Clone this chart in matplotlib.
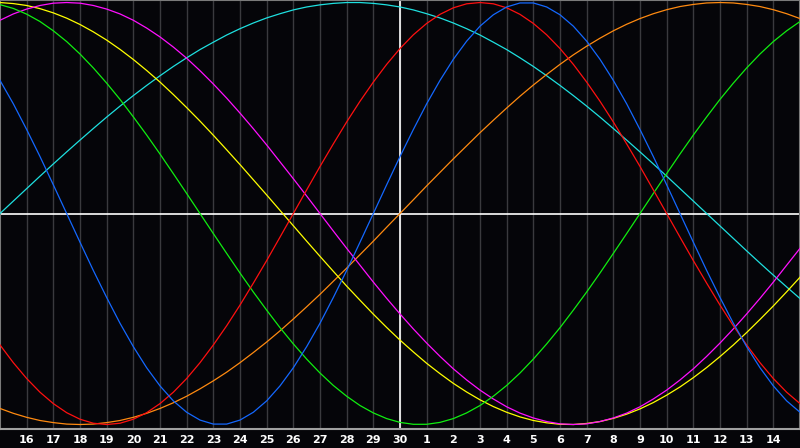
import matplotlib

matplotlib.use("Agg")
import matplotlib.pyplot as plt
import numpy as np

# cycle values (thousandths), every half day across the 30-day window
physical = [631, 520, 398, 270, 136, 0, -136, -270, -398, -520, -631, -731, -817, -888, -942, -979, -998, -998, -979, -942, -888, -817, -731, -631, -520, -398, -270, -136, 0, 136, 270, 398, 520, 631, 731, 817, 888, 942, 979, 998, 998, 979, 942, 888, 817, 731, 631, 520, 398, 270, 136, 0, -136, -270, -398, -520, -631, -731, -817, -888, -942]
emotional = [-623, -707, -782, -847, -901, -944, -975, -994, -1000, -994, -975, -944, -901, -847, -782, -707, -623, -532, -434, -330, -223, -112, 0, 112, 223, 330, 434, 532, 623, 707, 782, 847, 901, 944, 975, 994, 1000, 994, 975, 944, 901, 847, 782, 707, 623, 532, 434, 330, 223, 112, 0, -112, -223, -330, -434, -532, -623, -707, -782, -847, -901]
intellectual = [990, 972, 945, 910, 866, 815, 756, 690, 618, 541, 458, 372, 282, 189, 95, 0, -95, -189, -282, -372, -458, -541, -618, -690, -756, -815, -866, -910, -945, -972, -990, -999, -999, -990, -972, -945, -910, -866, -815, -756, -690, -618, -541, -458, -372, -282, -189, -95, 0, 95, 189, 282, 372, 458, 541, 618, 690, 756, 815, 866, 910]
intuitive = [916, 946, 969, 986, 997, 1000, 997, 986, 969, 946, 916, 879, 837, 789, 736, 677, 614, 547, 476, 402, 325, 245, 165, 83, 0, -83, -165, -245, -325, -402, -476, -547, -614, -677, -736, -789, -837, -879, -916, -946, -969, -986, -997, -1000, -997, -986, -969, -946, -916, -879, -837, -789, -736, -677, -614, -547, -476, -402, -325, -245, -165]
aesthetic = [1000, 995, 986, 971, 951, 926, 896, 861, 822, 778, 730, 678, 623, 564, 502, 438, 371, 302, 232, 160, 88, 15, -58, -131, -203, -274, -344, -411, -477, -540, -600, -656, -710, -759, -805, -846, -883, -915, -942, -964, -981, -992, -999, -1000, -995, -986, -971, -951, -926, -896, -861, -822, -778, -730, -678, -623, -564, -502, -438, -371, -302]
awareness = [-924, -947, -966, -981, -991, -998, -1000, -998, -991, -981, -966, -947, -924, -897, -866, -831, -793, -752, -707, -659, -609, -556, -500, -442, -383, -321, -259, -195, -131, -65, 0, 65, 131, 195, 259, 321, 383, 442, 500, 556, 609, 659, 707, 752, 793, 831, 866, 897, 924, 947, 966, 981, 991, 998, 1000, 998, 991, 981, 966, 947, 924]
spiritual = [0, 59, 118, 177, 235, 292, 348, 403, 457, 509, 559, 607, 653, 697, 738, 777, 812, 846, 876, 903, 927, 947, 965, 979, 989, 996, 1000, 1000, 996, 989, 979, 965, 947, 927, 903, 876, 846, 812, 777, 738, 697, 653, 607, 559, 509, 457, 403, 348, 292, 235, 177, 118, 59, 0, -59, -118, -177, -235, -292, -348, -403]

day_labels = [16, 17, 18, 19, 20, 21, 22, 23, 24, 25, 26, 27, 28, 29, 30,
              1, 2, 3, 4, 5, 6, 7, 8, 9, 10, 11, 12, 13, 14]
today = 30

series = [
    (spiritual, "#1ee0e0"),
    (awareness, "#ff8a10"),
    (aesthetic, "#ffff00"),
    (intuitive, "#ff10ff"),
    (intellectual, "#10ee10"),
    (emotional, "#ff1010"),
    (physical, "#1468ff"),
]

bg = "#050509"
fig = plt.figure(figsize=(8, 4.48), dpi=100, facecolor=bg)
ax = fig.add_axes([0, 0.0435, 1, 0.9565], facecolor=bg)

n_days = len(day_labels) + 1
x = np.linspace(0, n_days, len(physical))
ticks = np.arange(1, n_days)

for t in ticks:
    ax.axvline(t, color="#3a3a3e", lw=1.0, zorder=1)
ax.axvline(day_labels.index(today) + 1, color="white", lw=1.2, zorder=2)
ax.axhline(0, color="white", lw=1.2, zorder=2)

for vals, c in series:
    ax.plot(x, np.array(vals) / 1000.0, color=c, lw=0.9, zorder=3)

ax.set_xlim(0, n_days)
ax.set_ylim(-1.019, 1.012)
ax.set_xticks(ticks)
ax.set_xticklabels([str(d) for d in day_labels])
ax.set_yticks([])
ax.tick_params(axis="x", length=0, pad=5, colors="white", labelsize=8)
for lab in ax.get_xticklabels():
    lab.set_fontweight("bold")

for side in ["left", "top", "right"]:
    ax.spines[side].set_color("#7a7a7a")
    ax.spines[side].set_linewidth(1.5)
ax.spines["bottom"].set_color("#a0a0a0")
ax.spines["bottom"].set_linewidth(1.5)

fig.savefig("out.png", dpi=100, facecolor=bg)
